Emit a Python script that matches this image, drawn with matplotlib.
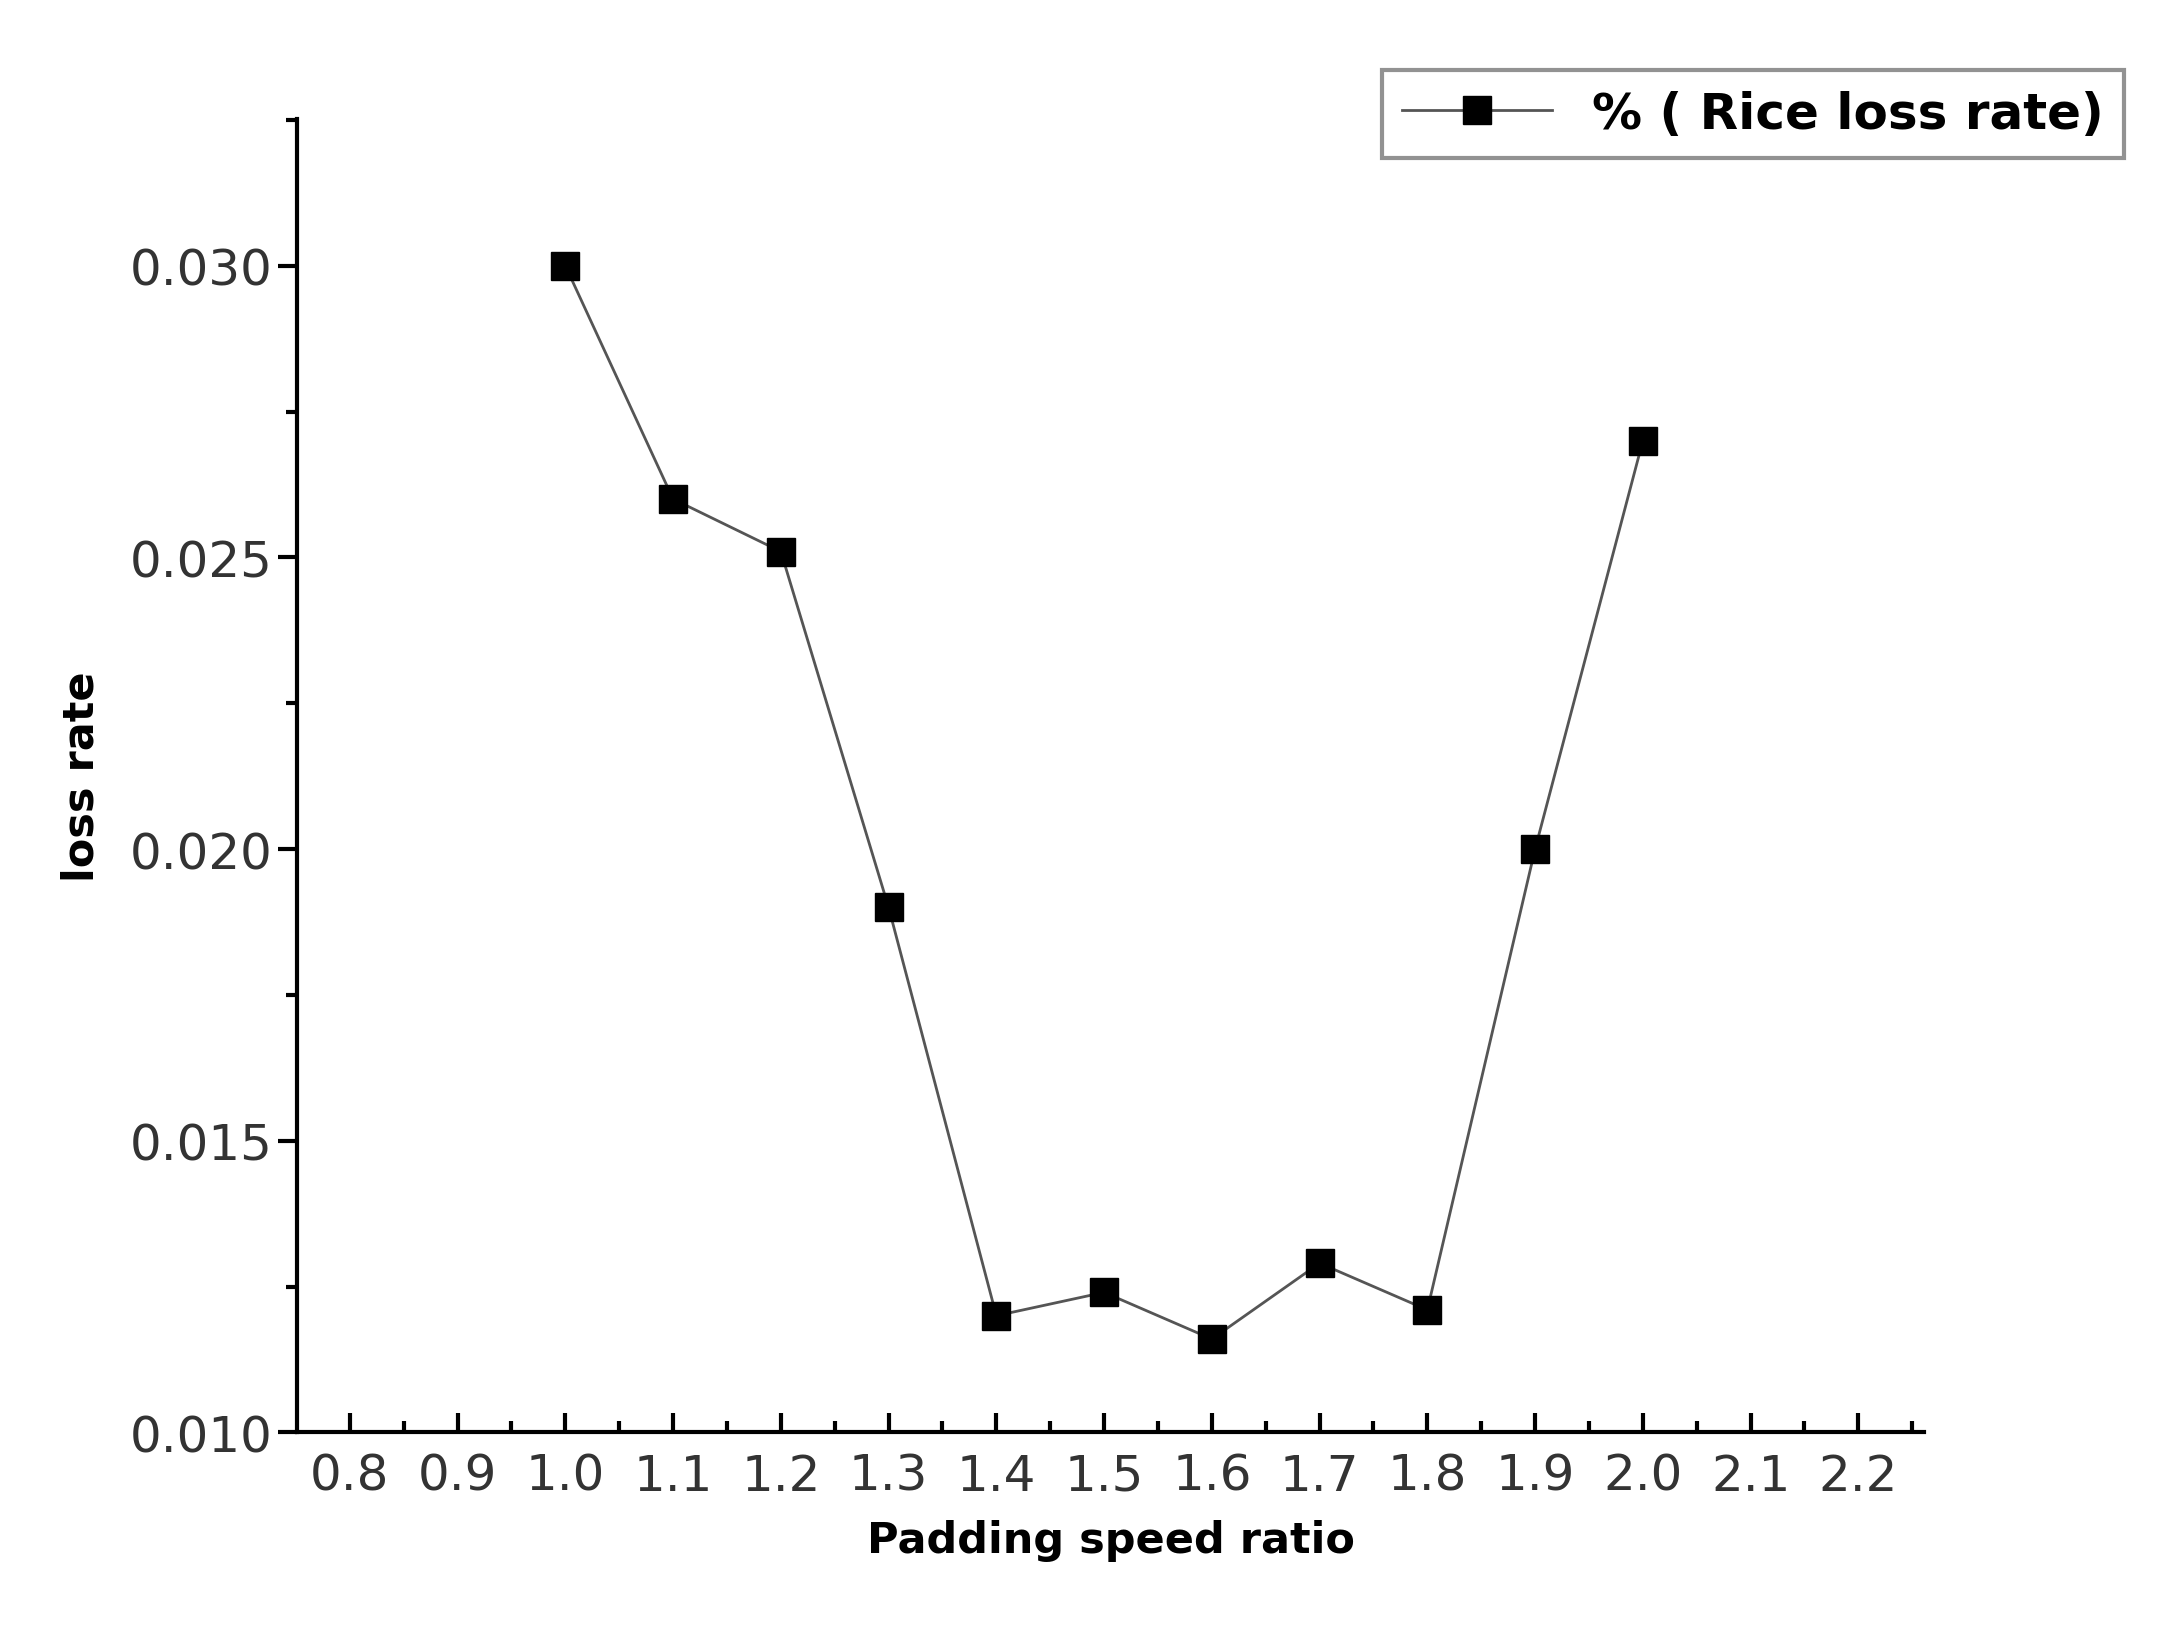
import matplotlib.pyplot as plt
from matplotlib.ticker import MultipleLocator

ratio = [1.0, 1.1, 1.2, 1.3, 1.4, 1.5, 1.6, 1.7, 1.8, 1.9, 2.0]
loss = [0.0300, 0.0260, 0.0251, 0.0190, 0.0120, 0.0124, 0.0116, 0.0129, 0.0121, 0.0200, 0.0270]

fig = plt.figure(figsize=(21.84, 16.4), dpi=100)
ax = fig.add_axes([0.136, 0.126, 0.745, 0.801])
ax.plot(ratio, loss, color='#555555', lw=2, marker='s', ms=20,
        mfc='black', mec='black', label='% ( Rice loss rate)')

ax.set_xlim(0.751, 2.261)
ax.set_ylim(0.010, 0.03252)
ax.set_xticks([0.8 + 0.1 * i for i in range(15)])
ax.xaxis.set_minor_locator(MultipleLocator(0.05))
ax.yaxis.set_major_locator(MultipleLocator(0.005))
ax.yaxis.set_minor_locator(MultipleLocator(0.0025))
ax.xaxis.set_major_formatter(plt.FormatStrFormatter('%.1f'))
ax.yaxis.set_major_formatter(plt.FormatStrFormatter('%.3f'))

for s in ['top', 'right']:
    ax.spines[s].set_visible(False)
for s in ['left', 'bottom']:
    ax.spines[s].set_linewidth(3)
ax.tick_params(axis='x', which='major', direction='in', length=14, width=3,
               labelsize=36, labelcolor='#333333', pad=14)
ax.tick_params(axis='x', which='minor', direction='in', length=8, width=3)
ax.tick_params(axis='y', which='major', direction='out', length=14, width=3,
               labelsize=36, labelcolor='#333333')
ax.tick_params(axis='y', which='minor', direction='out', length=8, width=3)

ax.set_xlabel('Padding speed ratio', fontsize=31, fontweight='bold', labelpad=14)
ax.set_ylabel('loss rate', fontsize=31, fontweight='bold', labelpad=20)

leg = fig.legend(loc='upper right', bbox_to_anchor=(0.984, 0.972),
                 prop={'size': 36, 'weight': 'bold'},
                 fancybox=False, edgecolor='#777777', handlelength=3)
leg.get_frame().set_linewidth(3)

fig.savefig('out.png', dpi=100)
